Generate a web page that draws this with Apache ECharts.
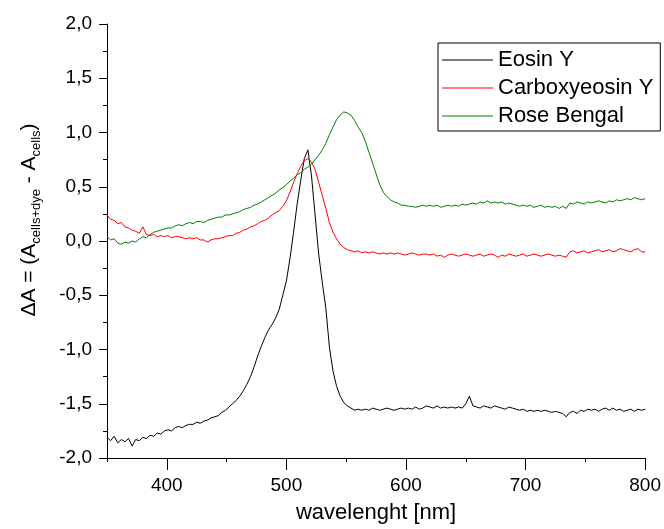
<!DOCTYPE html>
<html><head><meta charset="utf-8">
<script src="https://cdn.jsdelivr.net/npm/echarts@6/dist/echarts.min.js"></script>
<style>html,body{margin:0;padding:0;background:#fff}#c{width:664px;height:529px}</style>
</head><body><div id="c"></div>
<script>
const wavelengths = [
350,353,356,359,362,365,368,371,374,377,
380,383,386,389,392,395,398,401,404,407,
410,413,416,419,422,425,428,431,434,437,
440,443,446,449,452,455,458,461,464,467,
470,473,476,479,482,485,488,491,494,497,
500,503,506,509,512,515,518,521,524,527,
530,533,536,539,542,545,548,551,554,557,
560,563,566,569,572,575,578,581,584,587,
590,593,596,599,602,605,608,611,614,617,
620,623,626,629,632,635,638,641,644,647,
650,653,656,659,662,665,668,671,674,677,
680,683,686,689,692,695,698,701,704,707,
710,713,716,719,722,725,728,731,734,737,
740,743,746,749,752,755,758,761,764,767,
770,773,776,779,782,785,788,791,794,797,
800];
const eosinY = [
-1.81,-1.84,-1.80,-1.86,-1.83,-1.85,-1.82,-1.89,-1.83,-1.84,
-1.81,-1.82,-1.79,-1.80,-1.77,-1.78,-1.75,-1.74,-1.75,-1.72,
-1.71,-1.72,-1.70,-1.69,-1.69,-1.67,-1.68,-1.66,-1.65,-1.63,
-1.62,-1.61,-1.58,-1.56,-1.53,-1.50,-1.47,-1.43,-1.38,-1.32,
-1.25,-1.16,-1.06,-0.97,-0.89,-0.82,-0.77,-0.71,-0.63,-0.50,
-0.37,-0.16,0.08,0.34,0.56,0.76,0.84,0.60,0.24,-0.12,
-0.38,-0.62,-0.98,-1.20,-1.34,-1.43,-1.49,-1.52,-1.54,-1.56,
-1.55,-1.56,-1.55,-1.56,-1.54,-1.55,-1.56,-1.55,-1.54,-1.55,
-1.56,-1.55,-1.54,-1.55,-1.54,-1.55,-1.53,-1.55,-1.54,-1.52,
-1.53,-1.54,-1.52,-1.54,-1.53,-1.54,-1.53,-1.54,-1.53,-1.54,
-1.50,-1.43,-1.52,-1.53,-1.54,-1.52,-1.53,-1.54,-1.52,-1.53,
-1.54,-1.55,-1.53,-1.54,-1.55,-1.56,-1.55,-1.57,-1.56,-1.57,
-1.56,-1.57,-1.56,-1.57,-1.58,-1.57,-1.58,-1.59,-1.62,-1.58,
-1.57,-1.59,-1.56,-1.57,-1.55,-1.56,-1.55,-1.57,-1.55,-1.54,
-1.56,-1.54,-1.56,-1.55,-1.57,-1.56,-1.55,-1.57,-1.55,-1.56,
-1.55];
const carboxyeosinY = [
0.24,0.20,0.19,0.16,0.17,0.13,0.12,0.10,0.09,0.07,
0.13,0.06,0.05,0.06,0.04,0.05,0.04,0.05,0.03,0.04,
0.04,0.03,0.02,0.03,0.02,0.03,0.01,0.01,-0.01,0.01,
0.02,0.02,0.03,0.04,0.05,0.05,0.07,0.08,0.10,0.11,
0.13,0.14,0.16,0.18,0.19,0.21,0.24,0.26,0.28,0.32,
0.37,0.45,0.54,0.62,0.69,0.74,0.76,0.73,0.66,0.54,
0.42,0.30,0.17,0.08,0.02,-0.03,-0.06,-0.08,-0.09,-0.10,
-0.09,-0.11,-0.10,-0.11,-0.10,-0.11,-0.12,-0.11,-0.12,-0.11,
-0.12,-0.11,-0.12,-0.13,-0.12,-0.11,-0.12,-0.13,-0.12,-0.12,
-0.13,-0.12,-0.14,-0.13,-0.15,-0.13,-0.12,-0.13,-0.14,-0.13,
-0.12,-0.13,-0.14,-0.13,-0.12,-0.14,-0.13,-0.12,-0.13,-0.15,
-0.13,-0.14,-0.12,-0.13,-0.14,-0.13,-0.12,-0.14,-0.13,-0.12,
-0.13,-0.14,-0.13,-0.12,-0.13,-0.14,-0.13,-0.14,-0.15,-0.10,
-0.09,-0.11,-0.10,-0.09,-0.11,-0.10,-0.09,-0.08,-0.10,-0.09,
-0.08,-0.10,-0.09,-0.07,-0.08,-0.09,-0.10,-0.08,-0.07,-0.10,
-0.10];
const roseBengal = [
0.04,0.01,0.02,-0.02,-0.03,-0.01,-0.02,0.00,-0.01,0.02,
0.04,0.03,0.06,0.08,0.09,0.10,0.11,0.12,0.12,0.14,
0.15,0.14,0.16,0.17,0.16,0.18,0.18,0.17,0.19,0.20,
0.21,0.22,0.22,0.24,0.24,0.25,0.26,0.27,0.29,0.30,
0.31,0.33,0.34,0.36,0.38,0.40,0.42,0.44,0.47,0.49,
0.52,0.55,0.58,0.61,0.63,0.66,0.68,0.71,0.75,0.79,
0.84,0.90,0.98,1.05,1.12,1.16,1.19,1.18,1.16,1.11,
1.05,1.00,0.92,0.82,0.72,0.62,0.52,0.45,0.41,0.38,
0.36,0.35,0.33,0.33,0.32,0.32,0.31,0.32,0.33,0.32,
0.33,0.32,0.33,0.31,0.32,0.33,0.32,0.33,0.32,0.34,
0.33,0.34,0.35,0.34,0.36,0.35,0.37,0.35,0.36,0.35,
0.36,0.34,0.35,0.34,0.33,0.32,0.33,0.32,0.33,0.31,
0.32,0.33,0.31,0.32,0.31,0.32,0.30,0.32,0.30,0.35,
0.34,0.36,0.35,0.34,0.36,0.35,0.36,0.37,0.36,0.35,
0.37,0.36,0.38,0.37,0.38,0.39,0.38,0.40,0.39,0.38,
0.39];
const seriesNames = ['Eosin Y', 'Carboxyeosin Y', 'Rose Bengal'];
const seriesColors = ['#000000', '#ff0000', '#008000'];
const xMajorTicks = [400, 500, 600, 700, 800];

const FONT = '"Liberation Sans", Arial, Helvetica, sans-serif';
function pairs(ys) { return wavelengths.map((w, i) => [w, ys[i]]); }
const seriesData = [eosinY, carboxyeosinY, roseBengal];

const chart = echarts.init(document.getElementById('c'), null, { renderer: 'canvas' });
chart.setOption({
  animation: false,
  backgroundColor: '#ffffff',
  textStyle: { fontFamily: FONT, color: '#000' },
  grid: { left: 107, right: 15, top: 24, bottom: 67 },
  legend: {
    orient: 'vertical',
    left: 438, top: 43,
    itemWidth: 51, itemHeight: 1, itemGap: 6,
    icon: 'rect',
    padding: [6, 7, 4, 4],
    borderColor: '#000', borderWidth: 1,
    textStyle: { fontSize: 22, color: '#000', fontFamily: FONT, lineHeight: 21 },
    data: seriesNames
  },
  xAxis: [{
    type: 'value', min: 350, max: 800, interval: 50, position: 'bottom',
    axisLine: { show: true, onZero: false, lineStyle: { color: '#000', width: 1 } },
    axisTick: { show: true, inside: false, length: 4, lineStyle: { color: '#000', width: 1 } },
    axisLabel: {
      show: true, margin: 18, fontSize: 19, color: '#000', fontFamily: FONT,
      formatter: v => (xMajorTicks.indexOf(v) >= 0 ? String(v) : '')
    },
    splitLine: { show: false },
    name: 'wavelenght [nm]', nameLocation: 'middle', nameGap: 44,
    nameTextStyle: { fontSize: 22, color: '#000', fontFamily: FONT }
  }, {
    type: 'value', min: 350, max: 800, position: 'top', offset: -438,
    axisLine: { show: false, onZero: false },
    axisTick: { show: true, inside: true, length: 8, customValues: xMajorTicks, lineStyle: { color: '#000', width: 1 } },
    axisLabel: { show: false },
    splitLine: { show: false }
  }],
  yAxis: {
    type: 'value', min: -2, max: 2, interval: 0.5,
    axisLine: { show: true, onZero: false, lineStyle: { color: '#000', width: 1 } },
    axisTick: { show: true, inside: false, length: 8, lineStyle: { color: '#000', width: 1 } },
    minorTick: { show: true, splitNumber: 2, length: 4, lineStyle: { color: '#000', width: 1 } },
    axisLabel: {
      margin: 15, fontSize: 19, color: '#000', fontFamily: FONT,
      formatter: v => v.toFixed(1).replace('.', ',')
    },
    splitLine: { show: false }, minorSplitLine: { show: false },
    name: '{m|ΔA = (A}{s|cells+dye}{m| - A}{s|cells}{m|)}',
    nameLocation: 'middle', nameGap: 64,
    nameTextStyle: {
      padding: [0, 0, 0, 42],
      rich: {
        m: { fontSize: 21, lineHeight: 28, color: '#000', fontFamily: FONT },
        s: { fontSize: 13, lineHeight: 14, verticalAlign: 'bottom', color: '#000', fontFamily: FONT }
      }
    }
  },
  series: seriesNames.map((n, k) => ({
    name: n, type: 'line', xAxisIndex: 0, yAxisIndex: 0,
    data: pairs(seriesData[k]),
    symbol: 'none', showSymbol: false,
    color: seriesColors[k],
    lineStyle: { color: seriesColors[k], width: 1 },
    emphasis: { disabled: true }
  }))
});
</script>
</body></html>
